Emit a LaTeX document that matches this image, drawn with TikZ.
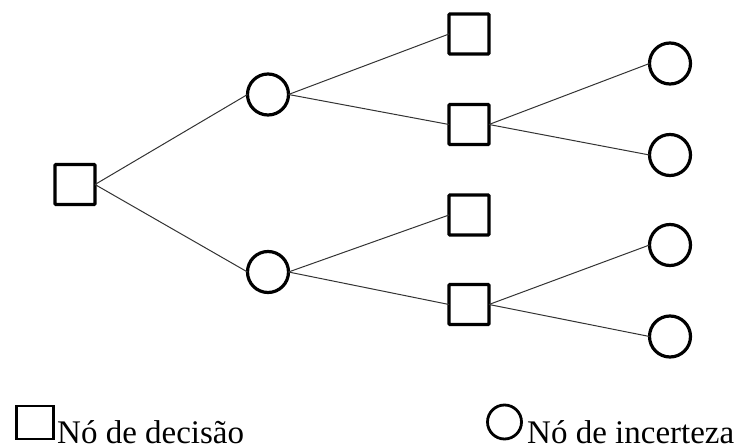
\documentclass[tikz,border=0pt]{standalone}
\usepackage{fontspec}
\setmainfont{Liberation Serif}
\begin{document}
\begin{tikzpicture}[x=1pt,y=-1pt,
  decbox/.style={draw=black,line width=3.2pt,rounded corners=1pt,minimum width=40pt,minimum height=40pt,inner sep=0pt,outer sep=0pt},
  chance/.style={circle,draw=black,line width=3.2pt,minimum size=41pt,inner sep=0pt,outer sep=0pt},
  link/.style={draw=black!80,line width=1pt},
  legtext/.style={anchor=base west,inner sep=0pt,font=\fontsize{33}{36}\selectfont}]
\useasboundingbox (0,0) rectangle (736,446);
\node[decbox] (r) at (75,184.5) {};
\node[chance] (c1) at (268,94.5) {};
\node[chance] (c2) at (268,272) {};
\node[decbox] (d1) at (469,34) {};
\node[decbox] (d2) at (469,124.5) {};
\node[decbox] (d3) at (469,215) {};
\node[decbox] (d4) at (469,304.5) {};
\node[chance] (e1) at (670,63.5) {};
\node[chance] (e2) at (670,155) {};
\node[chance] (e3) at (670,245) {};
\node[chance] (e4) at (670,336.5) {};
\draw[link] (r.east) -- (c1.west);
\draw[link] (r.east) -- (c2.west);
\draw[link] (c1.east) -- (d1.west);
\draw[link] (c1.east) -- (d2.west);
\draw[link] (c2.east) -- (d3.west);
\draw[link] (c2.east) -- (d4.west);
\draw[link] (d2.east) -- (e1.west);
\draw[link] (d2.east) -- (e2.west);
\draw[link] (d4.east) -- (e3.west);
\draw[link] (d4.east) -- (e4.west);
% legend
\node[draw=black,line width=2.8pt,minimum width=37pt,minimum height=33pt,inner sep=0pt] (ls) at (35,422.5) {};
\node[legtext] (lt1) at (57,443) {Nó de decisão};
\node[circle,draw=black,line width=2.8pt,minimum size=34pt,inner sep=0pt] (lc) at (504.5,422) {};
\node[legtext] (lt2) at (527,443) {Nó de incerteza};
\end{tikzpicture}
\end{document}
